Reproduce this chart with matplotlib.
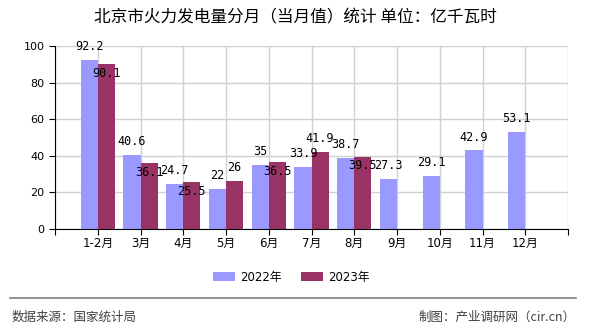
import matplotlib
matplotlib.use("Agg")
import matplotlib.pyplot as plt
import numpy as np

plt.rcParams['font.family'] = ['DejaVu Sans', 'Noto Sans CJK SC']

months = ['1-2月', '3月', '4月', '5月', '6月', '7月', '8月', '9月', '10月', '11月', '12月']
v2022 = [92.2, 40.6, 24.7, 22, 35, 33.9, 38.7, 27.3, 29.1, 42.9, 53.1]
v2023 = [90.1, 36.1, 25.5, 26, 36.5, 41.9, 39.5]
series_names = ['2022年', '2023年']

C22 = '#9999FF'
C23 = '#993366'
GRID = '#D0D0D0'
lab_font = ['DejaVu Sans Mono', 'Noto Sans CJK SC']

fig = plt.figure(figsize=(5.9, 3.3), dpi=100)
ax = fig.add_axes([55/590, 1-229/330, 513/590, 183/330])

x = np.arange(len(months))
w = 0.4
x23 = np.arange(len(v2023))
b1 = ax.bar(x - w/2, v2022, width=w, color=C22, zorder=3, label=series_names[0])
b2 = ax.bar(x23 + w/2, v2023, width=w, color=C23, zorder=3, label=series_names[1])

def fmt(v):
    return ('%g' % v)

for i, v in enumerate(v2022):
    ax.annotate(fmt(v), (x[i] - w/2, v), xytext=(0, 5), textcoords='offset points',
                ha='center', va='bottom', fontsize=8.5, family=lab_font, zorder=5)
# 2023 labels: drop under the bar top when they would clash with the 2022 label
for i, v in enumerate(v2023):
    above = v - v2022[i] > 3
    ax.annotate(fmt(v), (x23[i] + w/2, v), xytext=(0, 5 if above else -2),
                textcoords='offset points', ha='center',
                va='bottom' if above else 'top', fontsize=8.5, family=lab_font, zorder=5)

ax.set_xlim(-1, len(months))
ax.set_ylim(0, 100)
ax.set_yticks(range(0, 101, 20))
ax.set_xticks(range(-1, len(months) + 1))
ax.set_xticklabels([''] + months + [''], fontsize=8.5)
ax.tick_params(axis='y', labelsize=8, length=4, color='black')
ax.tick_params(axis='x', length=4, color='black', pad=2)
ax.grid(True, color=GRID, linewidth=1, zorder=0)
ax.set_axisbelow(True)
for s in ['top', 'right']:
    ax.spines[s].set_visible(False)
ax.spines['left'].set_color('black')
ax.spines['bottom'].set_color('black')
ax.spines['bottom'].set_zorder(4)

fig.text(0.5, 1-18/330, '北京市火力发电量分月（当月值）统计 单位：亿千瓦时',
         ha='center', va='center', fontsize=12, family=['Noto Sans CJK SC'])

fig.legend(handles=[b1, b2], labels=series_names, loc='center',
           bbox_to_anchor=(291/590, 1-277/330), ncol=2, frameon=False,
           handlelength=1.9, handleheight=0.8, columnspacing=1.6,
           handletextpad=0.4, prop={'family': ['DejaVu Sans', 'Noto Sans CJK SC'], 'size': 8.5})

fig.add_artist(plt.Line2D([10/590, 576/590], [1-298/330, 1-298/330], color='#808080', linewidth=1.2))
fig.text(12/590, 1-317/330, '数据来源：国家统计局', ha='left', va='center',
         fontsize=9, color='#404040', family=['Noto Sans CJK SC'])
fig.text(576/590, 1-317/330, '制图：产业调研网（cir.cn）', ha='right', va='center',
         fontsize=9, color='#404040', family=['Noto Sans CJK SC'])

fig.savefig('out.png', dpi=100)
